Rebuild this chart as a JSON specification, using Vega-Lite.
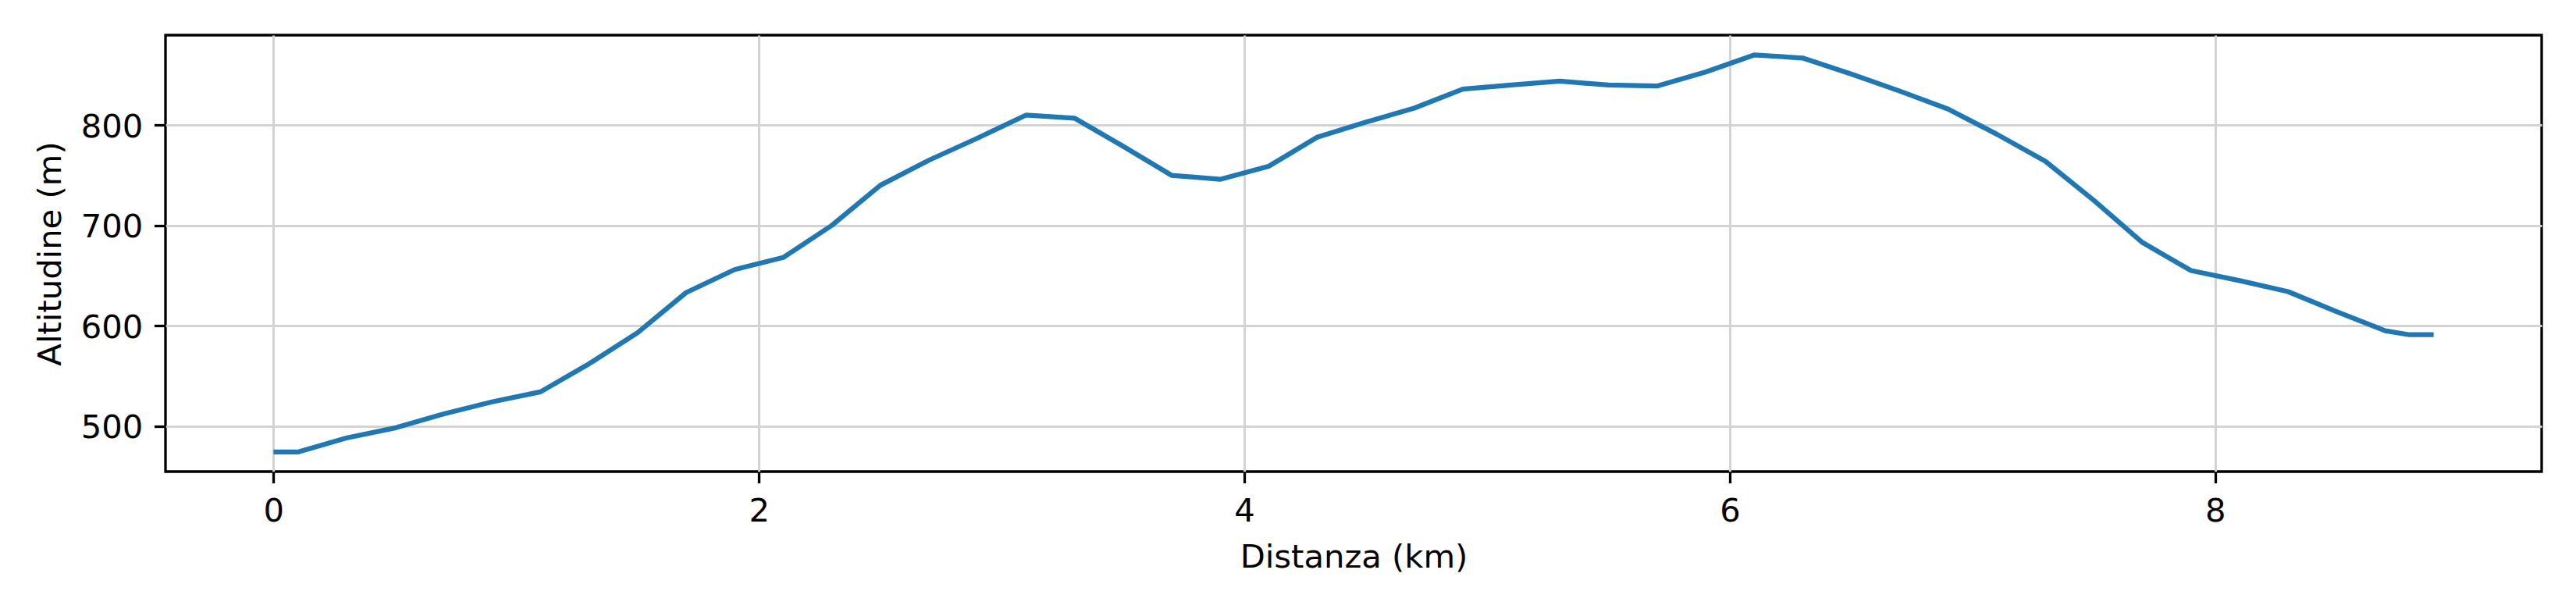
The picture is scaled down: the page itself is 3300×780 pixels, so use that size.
{
  "$schema": "https://vega.github.io/schema/vega-lite/v6.json",
  "autosize": {"type": "none"},
  "width": 3044,
  "height": 559,
  "padding": {"left": 212, "top": 45, "right": 44, "bottom": 176},
  "background": "white",
  "config": {
    "view": {"stroke": "black", "strokeWidth": 3.3},
    "font": "DejaVu Sans",
    "axis": {
      "labelFont": "DejaVu Sans",
      "titleFont": "DejaVu Sans",
      "labelFontSize": 41.7,
      "titleFontSize": 41.7,
      "labelColor": "black",
      "titleColor": "black",
      "titleFontWeight": "normal",
      "tickColor": "black",
      "tickWidth": 3.3,
      "tickSize": 14.6,
      "domain": false,
      "grid": true,
      "gridColor": "#d3d3d3",
      "gridWidth": 3
    }
  },
  "data": {
    "values": [
      {"d": 0, "a": 474},
      {"d": 0.1, "a": 474},
      {"d": 0.3, "a": 488},
      {"d": 0.5, "a": 498},
      {"d": 0.7, "a": 512},
      {"d": 0.9, "a": 524},
      {"d": 1.1, "a": 534},
      {"d": 1.3, "a": 562},
      {"d": 1.5, "a": 593},
      {"d": 1.7, "a": 633},
      {"d": 1.9, "a": 656},
      {"d": 2.1, "a": 668},
      {"d": 2.3, "a": 700},
      {"d": 2.5, "a": 740},
      {"d": 2.7, "a": 765},
      {"d": 2.9, "a": 787},
      {"d": 3.1, "a": 810},
      {"d": 3.3, "a": 807},
      {"d": 3.5, "a": 779},
      {"d": 3.7, "a": 750},
      {"d": 3.9, "a": 746},
      {"d": 4.1, "a": 759},
      {"d": 4.3, "a": 788},
      {"d": 4.5, "a": 803},
      {"d": 4.7, "a": 817},
      {"d": 4.9, "a": 836},
      {"d": 5.1, "a": 840},
      {"d": 5.3, "a": 844},
      {"d": 5.5, "a": 840},
      {"d": 5.7, "a": 839},
      {"d": 5.9, "a": 853},
      {"d": 6.1, "a": 870},
      {"d": 6.3, "a": 867},
      {"d": 6.5, "a": 851},
      {"d": 6.7, "a": 834},
      {"d": 6.9, "a": 816},
      {"d": 7.1, "a": 791},
      {"d": 7.3, "a": 764},
      {"d": 7.5, "a": 725},
      {"d": 7.7, "a": 683},
      {"d": 7.9, "a": 655},
      {"d": 8.1, "a": 645},
      {"d": 8.3, "a": 634},
      {"d": 8.5, "a": 614},
      {"d": 8.7, "a": 595},
      {"d": 8.8, "a": 591},
      {"d": 8.9, "a": 591}
    ]
  },
  "mark": {"type": "line", "color": "#1f77b4", "strokeWidth": 6.25, "strokeJoin": "round", "strokeCap": "butt"},
  "encoding": {
    "x": {
      "field": "d",
      "type": "quantitative",
      "scale": {"domain": [-0.445, 9.345], "nice": false, "zero": false},
      "axis": {
        "title": "Distanza (km)",
        "values": [0, 2, 4, 6, 8],
        "labelPadding": 16,
        "titleBaseline": "alphabetic",
        "titleY": 122
      }
    },
    "y": {
      "field": "a",
      "type": "quantitative",
      "scale": {"domain": [454.5, 889.8], "nice": false, "zero": false},
      "axis": {
        "title": "Altitudine (m)",
        "values": [500, 600, 700, 800],
        "labelPadding": 14.6,
        "labelOffset": 2,
        "titleBaseline": "alphabetic",
        "titleX": -135
      }
    }
  }
}
